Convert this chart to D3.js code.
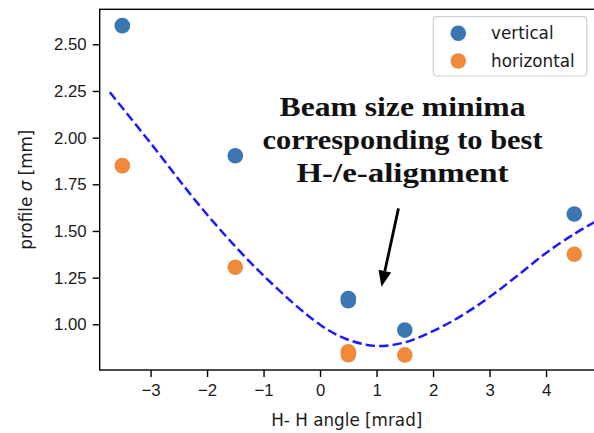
<!DOCTYPE html>
<html>
<head>
<meta charset="utf-8">
<script src="https://cdn.jsdelivr.net/npm/d3@7"></script>
<style>
	body { margin: 0; background: #fff; }
	svg { display: block; font-family: "DejaVu Sans", sans-serif; }
</style>
</head>
<body>
<div id="chart"></div>
<script>
// measured points
const angles = [-3.5, -1.5, 0.5, 0.5, 1.5, 4.5];
const verticalSigma = [2.600, 1.903, 1.138, 1.126, 0.969, 1.591];
const horizontalSigma = [1.850, 1.306, 0.853, 0.837, 0.836, 1.375];

// dashed fit curve
const fitAngle = [-3.72, -3, -2, -1, 0, 0.5, 1, 1.5, 2, 2.5, 3, 3.5, 4, 4.5, 4.9];
const fitSigma = [2.243, 1.971, 1.588, 1.261, 0.998, 0.917, 0.884, 0.903, 0.964, 1.045, 1.146, 1.262, 1.382, 1.484, 1.555];

const xTicks = [-3, -2, -1, 0, 1, 2, 3, 4];
const yTicks = [1.00, 1.25, 1.50, 1.75, 2.00, 2.25, 2.50];
const seriesNames = ["vertical", "horizontal"];
const seriesColors = ["#3a76b1", "#f08a3a"];
const noteLines = ["Beam size minima", "corresponding to best", "H-/e-alignment"];

const width = 594, height = 433;
const plotLeft = 99.7, plotRight = 596.9, plotTop = 9.3, plotBottom = 370;

const svg = d3.select("#chart").append("svg")
	.attr("width", width)
	.attr("height", height);

const x = d3.scaleLinear().domain([-3.9, 4.9]).range([plotLeft, plotRight]);
const y = d3.scaleLinear().domain([0.7552, 2.6875]).range([plotBottom, plotTop]);

// fit curve
svg.append("path")
	.datum(fitAngle.map((a, i) => [a, fitSigma[i]]))
	.attr("fill", "none")
	.attr("stroke", "#1a1aff")
	.attr("stroke-width", 2.5)
	.attr("stroke-dasharray", "9.4,4.1")
	.attr("d", d3.line()
		.x(d => x(d[0]))
		.y(d => y(d[1]))
		.curve(d3.curveCatmullRom.alpha(0.5)));

// scatter
[verticalSigma, horizontalSigma].forEach((vals, k) => {
	svg.append("g")
		.attr("fill", seriesColors[k])
		.selectAll("circle")
		.data(vals)
		.enter().append("circle")
		.attr("cx", (d, i) => x(angles[i]))
		.attr("cy", d => y(d))
		.attr("r", 7.8);
});

// axes
const xAxis = svg.append("g")
	.attr("transform", `translate(0,${plotBottom})`)
	.call(d3.axisBottom(x).tickValues(xTicks).tickSize(7).tickPadding(7).tickFormat(d3.format("d")));
const yAxis = svg.append("g")
	.attr("transform", `translate(${plotLeft},0)`)
	.call(d3.axisLeft(y).tickValues(yTicks).tickSize(7).tickPadding(6).tickFormat(d3.format(".2f")));
for (const ax of [xAxis, yAxis]) {
	ax.select(".domain").remove();
	ax.selectAll("line").attr("stroke", "#000").attr("stroke-width", 1.4);
	ax.selectAll("text").attr("fill", "#1a1a1a").style("font-size", "16.8px");
}

// frame
svg.append("rect")
	.attr("x", plotLeft).attr("y", plotTop)
	.attr("width", plotRight - plotLeft).attr("height", plotBottom - plotTop)
	.attr("fill", "none")
	.attr("stroke", "#000")
	.attr("stroke-width", 1.4);

// labels
svg.append("text")
	.attr("x", (plotLeft + plotRight) / 2 - 1.5)
	.attr("y", 426)
	.attr("text-anchor", "middle")
	.style("font-size", "16.8px")
	.attr("fill", "#1a1a1a")
	.text("H- H angle [mrad]");

const yl = svg.append("text")
	.attr("transform", `translate(32,${(plotTop + plotBottom) / 2}) rotate(-90)`)
	.attr("text-anchor", "middle")
	.style("font-size", "16.8px")
	.attr("fill", "#1a1a1a");
yl.append("tspan").text("profile ");
yl.append("tspan").style("font-style", "italic").text("σ");
yl.append("tspan").text(" [mm]");

// annotation
const noteWidths = [246, 280, 212];
const note = svg.append("text")
	.attr("text-anchor", "middle")
	.style("font-family", "'Liberation Serif', serif")
	.style("font-weight", "bold")
	.style("font-size", "27px")
	.attr("fill", "#111");
noteLines.forEach((t, i) => {
	note.append("tspan")
		.attr("x", x(1.46))
		.attr("y", y(2.116) + i * 33)
		.attr("textLength", noteWidths[i])
		.attr("lengthAdjust", "spacingAndGlyphs")
		.text(t);
});

// arrow
const tail = [x(1.388), y(1.621)], tip = [x(1.087), y(1.2015)];
const ang = Math.atan2(tip[1] - tail[1], tip[0] - tail[0]);
const headLen = 16, headW = 6.5;
const base = [tip[0] - headLen * Math.cos(ang), tip[1] - headLen * Math.sin(ang)];
svg.append("line")
	.attr("x1", tail[0]).attr("y1", tail[1])
	.attr("x2", base[0]).attr("y2", base[1])
	.attr("stroke", "#000")
	.attr("stroke-width", 2.8);
svg.append("path")
	.attr("d", `M${tip}L${base[0] + headW * Math.sin(ang)},${base[1] - headW * Math.cos(ang)}L${base[0] - headW * Math.sin(ang)},${base[1] + headW * Math.cos(ang)}Z`)
	.attr("fill", "#000");

// legend
const legend = svg.append("g");
legend.append("rect")
	.attr("x", 433.3).attr("y", 16.7)
	.attr("width", 153.4).attr("height", 59.3)
	.attr("rx", 3.5)
	.attr("fill", "#fff")
	.attr("fill-opacity", 0.8)
	.attr("stroke", "#d0d0d0")
	.attr("stroke-width", 1.2);
seriesNames.forEach((n, i) => {
	legend.append("circle")
		.attr("cx", 458.3).attr("cy", 33.3 + i * 27.7)
		.attr("r", 7.8)
		.attr("fill", seriesColors[i]);
	legend.append("text")
		.attr("x", 491).attr("y", 39 + i * 27.7)
		.style("font-size", "16.8px")
		.attr("fill", "#1a1a1a")
		.text(n);
});
</script>
</body>
</html>
